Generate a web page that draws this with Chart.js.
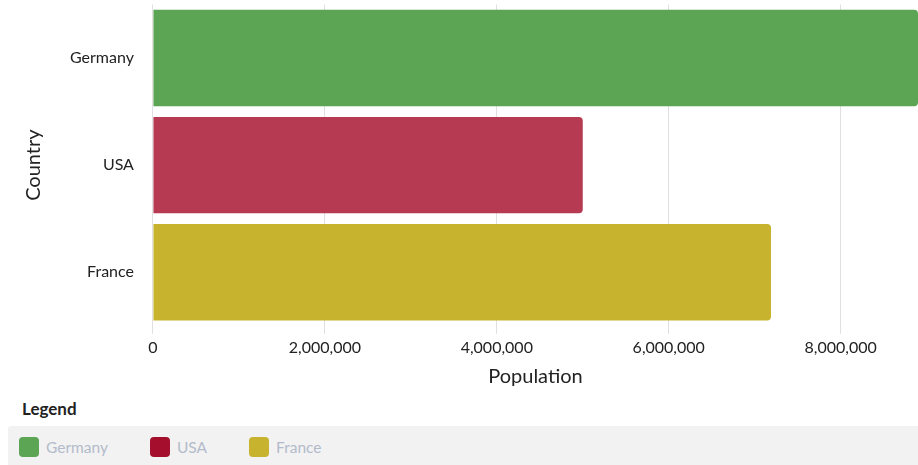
<!DOCTYPE html>
<html>
<head>
<meta charset="utf-8">
<script src="https://cdn.jsdelivr.net/npm/chart.js@4"></script>
<style>
  body { margin: 0; background: #fff; font-family: Lato, sans-serif; }
  .chart-wrap { position: relative; width: 918px; height: 395px; }
  .legend__title { font-weight: bold; font-size: 17px; color: #222; margin: 3px 0 0 22px; height: 28px; }
  .legend__box { margin-left: 8px; background: #f2f2f2; border-radius: 3px 0 0 0; height: 42px; display: flex; align-items: center; padding-left: 11px; }
  .legend__item { display: flex; align-items: center; margin-right: 42px; font-size: 15.5px; color: #b3bbcb; }
  .legend__swatch { width: 20px; height: 20px; border-radius: 4px; margin-right: 7px; }
</style>
</head>
<body>
<div class="chart-wrap"><canvas id="myChart"></canvas></div>
<div class="legend__title">Legend</div>
<div class="legend__box" id="legend"></div>
<script>
const countries = ['Germany', 'USA', 'France'];
const population = [8900000, 5000000, 7190000];
const barColors = ['#5ba555', '#b53a52', '#c8b32e'];
const legendColors = ['#5ba555', '#a50e2d', '#c8b32e'];

Chart.defaults.font.family = 'Lato';
Chart.defaults.color = '#222';

const elemLegend = document.querySelector('#legend');
countries.forEach(function(name, i) {
  const item = document.createElement('div');
  item.className = 'legend__item';
  item.innerHTML = '<span class="legend__swatch" style="background:' + legendColors[i] + '"></span>' + name;
  elemLegend.appendChild(item);
});

const ctx = document.querySelector('#myChart').getContext('2d');

// eslint-disable-next-line no-undef
const chart = new Chart(ctx, {
  type: 'bar',
  data: {
    labels: countries,
    datasets: [{
      label: 'Population',
      data: population,
      backgroundColor: barColors,
      borderRadius: 4,
      barPercentage: 0.9,
      categoryPercentage: 1,
    }]
  },
  options: {
    indexAxis: 'y',
    responsive: true,
    maintainAspectRatio: false,
    animation: false,
    layout: {
      padding: { top: 4.5, left: 18, right: 0, bottom: 0 }
    },
    scales: {
      x: {
        beginAtZero: true,
        max: Math.max(...population),
        border: { display: false },
        grid: { color: 'rgba(0,0,0,0.12)' },
        ticks: {
          stepSize: 2000000,
          includeBounds: false,
          padding: 4,
          font: { size: 16 },
          color: '#222',
        },
        title: {
          display: true,
          text: 'Population',
          font: { size: 20 },
          color: '#222',
          padding: { top: 4, bottom: 6 },
        },
      },
      y: {
        border: { display: false },
        grid: { display: false, tickLength: 19 },
        ticks: {
          padding: 0,
          font: { size: 16, lineHeight: 0.5 },
          color: '#222',
        },
        title: {
          display: true,
          text: 'Country',
          font: { size: 20 },
          color: '#222',
          padding: { top: 4, bottom: 24 },
        },
      }
    },
    plugins: {
      legend: { display: false },
      tooltip: { enabled: false },
    }
  },
});
</script>
</body>
</html>
